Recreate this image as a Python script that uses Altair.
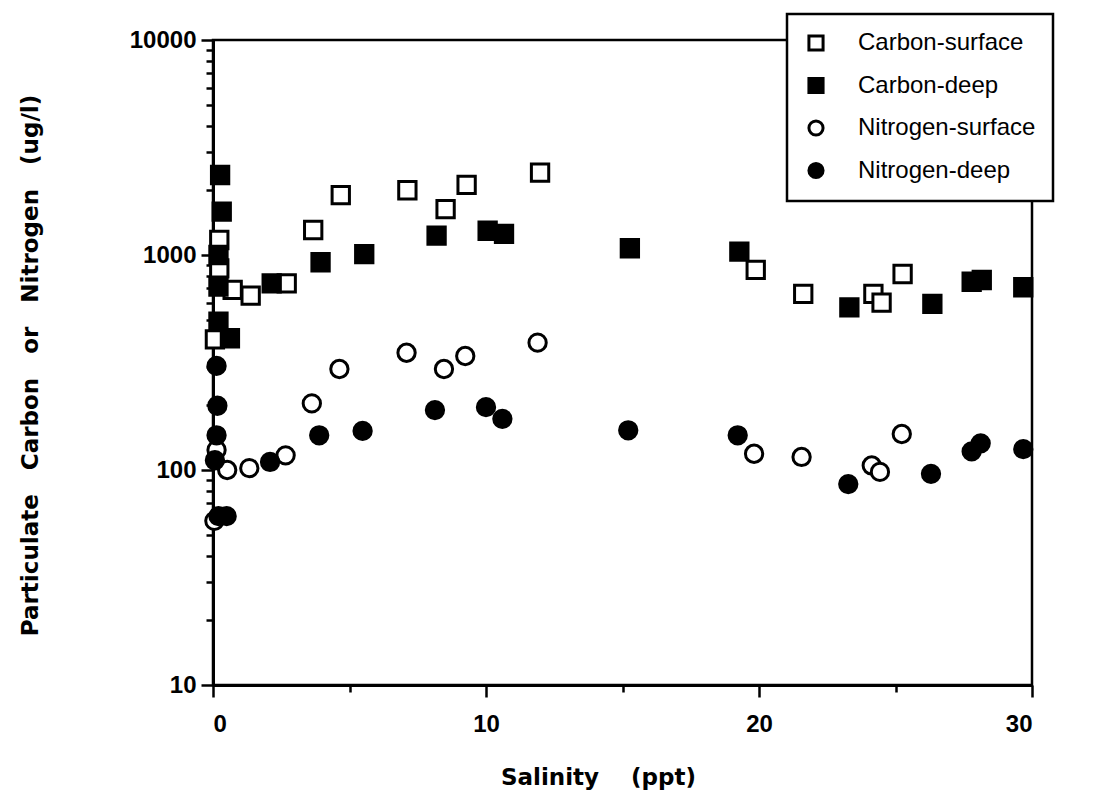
import altair as alt
import pandas as pd

series_names = ["Carbon-surface", "Carbon-deep", "Nitrogen-surface", "Nitrogen-deep"]

cs_x = [0.23, 0.23, 0.07, 0.72, 1.38, 2.7, 3.67, 4.68, 7.12, 8.52, 9.29, 11.98, 19.88, 21.62, 24.19, 24.49, 25.26]
cs_y = [1174, 867, 405, 688, 647, 738, 1307, 1900, 2000, 1635, 2120, 2415, 852, 659, 659, 600, 816]

cd_x = [0.26, 0.32, 0.2, 0.2, 0.2, 0.62, 2.15, 3.94, 5.54, 8.19, 10.06, 10.66, 15.27, 19.28, 23.31, 26.35, 27.79, 28.16, 29.68]
cd_y = [2356, 1590, 1000, 713, 490, 410, 738, 925, 1010, 1230, 1297, 1253, 1075, 1036, 571, 592, 751, 765, 708]

ns_x = [0.13, 0.05, 0.52, 1.33, 2.66, 3.62, 4.63, 7.09, 8.46, 9.24, 11.89, 19.82, 21.56, 24.13, 24.43, 25.23]
ns_y = [124, 58, 100, 102, 117, 204, 295, 351, 295, 339, 391, 119, 115, 105, 98, 147]

nd_x = [0.13, 0.16, 0.13, 0.07, 0.2, 0.5, 2.09, 3.89, 5.48, 8.13, 10.0, 10.6, 15.21, 19.22, 23.27, 26.3, 27.79, 28.12, 29.68]
nd_y = [305, 199, 145, 111, 61, 61, 109, 145, 152, 190, 196, 173, 153, 145, 86, 96, 122, 133, 125]

x_ticks = [0, 5, 10, 15, 20, 25, 30]
x_labels = [0, 10, 20, 30]
y_major = [10, 100, 1000, 10000]
y_ticks = [m * d for d in [10, 100, 1000] for m in range(1, 10)] + [10000]

nb = "\u00a0"

rows = []
for name, xs, ys in [
    ("Carbon-surface", cs_x, cs_y),
    ("Carbon-deep", cd_x, cd_y),
    ("Nitrogen-surface", ns_x, ns_y),
    ("Nitrogen-deep", nd_x, nd_y),
]:
    for xv, yv in zip(xs, ys):
        rows.append({"salinity": xv, "value": yv, "series": name})
df = pd.DataFrame(rows)

x_label_test = " || ".join(f"datum.value == {v}" for v in x_labels)
y_major_test = " || ".join(f"datum.value == {v}" for v in y_major)

legend_cfg = dict(
    title=None,
    orient="none",
    legendX=574,
    legendY=-26,
    fillColor="white",
    strokeColor="black",
    padding=17,
    rowPadding=14.5,
    labelFontSize=24,
    labelFont="Liberation Sans",
    labelColor="black",
    labelOffset=30,
    symbolSize=200,
    symbolStrokeWidth=3,
    labelLimit=800,
)

chart = (
    alt.Chart(df)
    .mark_point(filled=True, size=300, strokeWidth=3, opacity=1)
    .encode(
        x=alt.X(
            "salinity:Q",
            scale=alt.Scale(domain=[0, 30], nice=False, zero=False),
            axis=alt.Axis(
                values=x_ticks,
                labelExpr=f"({x_label_test}) ? datum.label : ''",
                grid=False,
                title="Salinity" + nb * 4 + "(ppt)",
                tickSize={"condition": {"test": x_label_test, "value": 12}, "value": 7},
                labelPadding=15,
                titleX=385,
                titleY=92,
                titleAnchor="middle",
                titleBaseline="middle",
            ),
        ),
        y=alt.Y(
            "value:Q",
            scale=alt.Scale(type="log", domain=[10, 10000], nice=False),
            axis=alt.Axis(
                values=y_ticks,
                labelExpr=f"({y_major_test}) ? datum.label : ''",
                format="d",
                grid=False,
                title=(nb * 3).join(["Particulate", "Carbon", "or", "Nitrogen", "(ug/l)"]),
                tickSize={"condition": {"test": y_major_test, "value": 12}, "value": 7},
                labelPadding=5,
                titleX=-183,
                titleY=325,
                titleAngle=270,
                titleAlign="center",
                titleBaseline="middle",
            ),
        ),
        shape=alt.Shape(
            "series:N",
            scale=alt.Scale(domain=series_names, range=["square", "square", "circle", "circle"]),
            legend=alt.Legend(**legend_cfg),
        ),
        fill=alt.Fill(
            "series:N",
            scale=alt.Scale(domain=series_names, range=["white", "black", "white", "black"]),
            legend=alt.Legend(**legend_cfg),
        ),
        stroke=alt.Stroke(
            "series:N",
            scale=alt.Scale(domain=series_names, range=["black", "black", "black", "black"]),
            legend=alt.Legend(**legend_cfg),
        ),
    )
    .properties(
        width=819,
        height=645,
        autosize=alt.AutoSizeParams(type="none"),
        padding={"left": 213, "top": 40, "right": 76, "bottom": 106},
        background="white",
    )
    .configure_view(stroke="black", strokeWidth=2.5)
    .configure_axis(
        domainColor="black",
        domainWidth=3,
        tickColor="black",
        tickWidth=2.5,
        labelColor="black",
        labelFont="Liberation Sans",
        labelFontWeight="bold",
        labelFontSize=24,
        titleColor="black",
        titleFont="DejaVu Sans",
        titleFontWeight="bold",
        titleFontSize=23,
    )
    .configure_legend(strokeWidth=2.5)
)

chart.save("out.html", embed_options={"renderer": "svg", "actions": False})
